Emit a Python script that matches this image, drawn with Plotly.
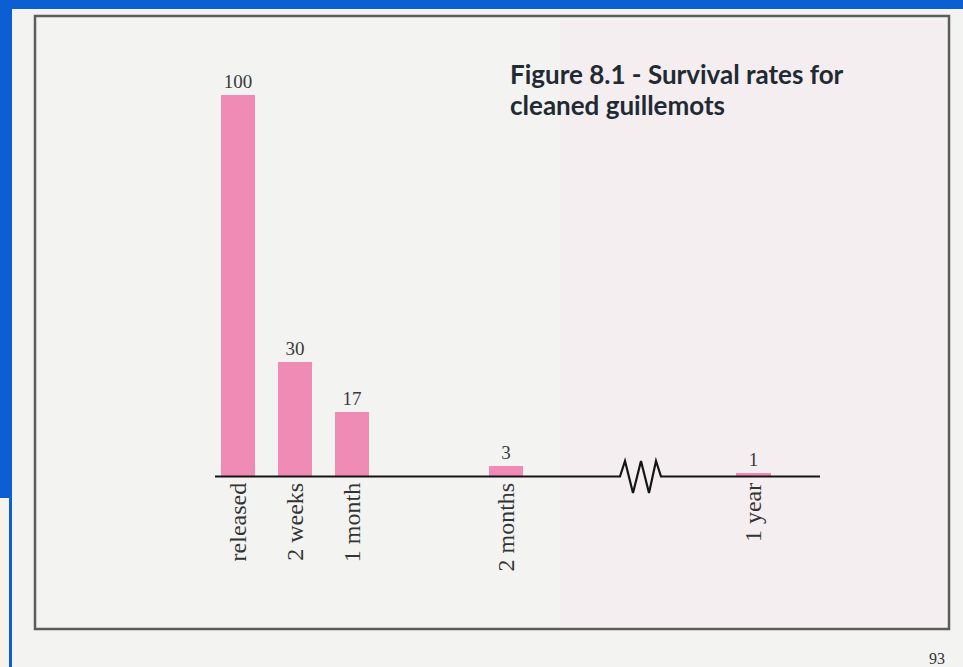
import plotly.graph_objects as go

# ---- data ----
categories = ["released", "2 weeks", "1 month", "2 months", "1 year"]
survivors = [100, 30, 17, 3, 1]
# slot positions along the (broken) time axis
slots = [0, 1, 2, 4.7, 9.04]

title_lines = ["Figure 8.1 - Survival rates for", "cleaned guillemots"]

W, H = 963, 667
L, R, T, B = 215, 820, 60, 477  # plot area in pixels


def px(x):
    return (x - L) / (R - L)


def py(y):
    return (B - y) / (B - T)


BLUE = "#0b5fd3"
PAGE = "#f3f3f2"
PINK = "#ef8bb4"

fig = go.Figure()
fig.add_trace(go.Bar(
    x=slots, y=survivors, width=0.61,
    marker=dict(color=PINK, line=dict(width=0)),
    text=[str(v) for v in survivors], textposition="outside",
    textfont=dict(family="Liberation Serif", size=19, color="#3a3a3a"),
    cliponaxis=False, hoverinfo="skip",
))

shapes = []
# page (paper) over blue background
shapes.append(dict(type="rect", xref="paper", yref="paper", layer="below",
                   x0=px(12), x1=px(963), y0=py(9), y1=py(667),
                   fillcolor=PAGE, line=dict(width=0)))
shapes.append(dict(type="rect", xref="paper", yref="paper", layer="below",
                   x0=px(0), x1=px(9), y0=py(498), y1=py(667),
                   fillcolor="#f7f3ec", line=dict(width=0)))
# faint pink tint on the right part of the page
shapes.append(dict(type="rect", xref="paper", yref="paper", layer="below",
                   x0=px(560), x1=px(946), y0=py(20), y1=py(626),
                   fillcolor="rgba(252,228,236,0.3)", line=dict(width=0)))
# frame
shapes.append(dict(type="rect", xref="paper", yref="paper", layer="below",
                   x0=px(35), x1=px(949), y0=py(16), y1=py(629),
                   line=dict(color="#5c5c5c", width=2.5)))
# broken baseline with zigzag
pts = [(215, 476.5), (620, 476.5), (625, 461), (633, 493), (641, 461),
       (649, 493), (656, 461), (661, 476.5), (820, 476.5)]
path = "M " + " L ".join(f"{px(x):.5f},{py(y):.5f}" for x, y in pts)
shapes.append(dict(type="path", xref="paper", yref="paper", path=path,
                   line=dict(color="#151515", width=2.2)))

annotations = []
for i, line in enumerate(title_lines):
    annotations.append(dict(
        xref="paper", yref="paper", x=px(508), y=py(74 + 31 * i),
        xanchor="left", yanchor="middle", showarrow=False, text=f"<b>{line}</b>",
        font=dict(family="Lato", size=26, color="#1f2a33")))
annotations.append(dict(
    xref="paper", yref="paper", x=px(937), y=py(658),
    xanchor="center", yanchor="middle", showarrow=False, text="93",
    font=dict(family="Liberation Serif", size=16, color="#333")))

fig.update_layout(
    width=W, height=H,
    margin=dict(l=L, r=W - R, t=T, b=H - B, pad=0),
    paper_bgcolor=BLUE, plot_bgcolor="rgba(0,0,0,0)",
    showlegend=False, shapes=shapes, annotations=annotations,
    bargap=0,
    xaxis=dict(range=[(L - 238) / 57, (R - 238) / 57], tickvals=slots,
               ticktext=categories, tickangle=-90, showgrid=False,
               zeroline=False, showline=False, ticks="",
               tickfont=dict(family="Liberation Serif", size=24, color="#333"),
               fixedrange=True),
    yaxis=dict(range=[0, (B - T) / 3.82], visible=False, showgrid=False,
               zeroline=False, fixedrange=True),
)

fig.write_html("out.html")
